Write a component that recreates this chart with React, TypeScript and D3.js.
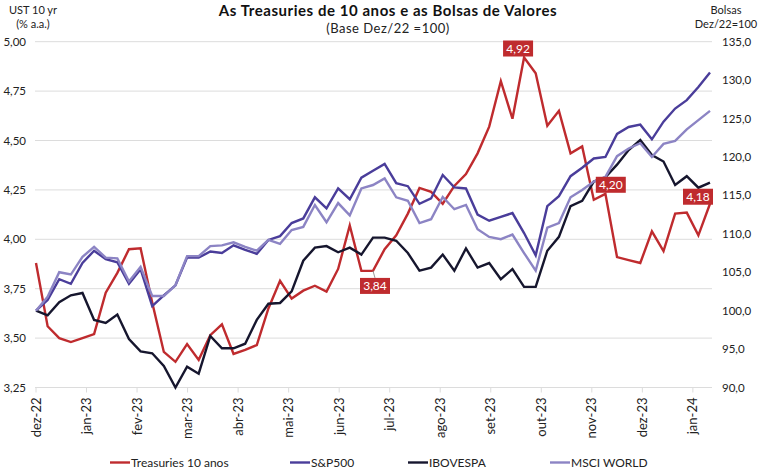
import React from 'react';
import * as d3 from 'd3';

const monthLabels = ['dez-22', 'jan-23', 'fev-23', 'mar-23', 'abr-23', 'mai-23', 'jun-23', 'jul-23', 'ago-23', 'set-23', 'out-23', 'nov-23', 'dez-23', 'jan-24'];

const treasuries = [
  3.88, 3.56, 3.50, 3.48, 3.50, 3.52, 3.73, 3.83, 3.95, 3.955,
  3.68, 3.43, 3.38, 3.47, 3.39, 3.515, 3.57, 3.42, 3.44, 3.465,
  3.65, 3.79, 3.70, 3.74, 3.765, 3.735, 3.85, 4.07, 3.84, 3.84,
  3.95, 4.02, 4.13, 4.26, 4.24, 4.18, 4.27, 4.33, 4.435, 4.57,
  4.80, 4.61, 4.92, 4.84, 4.575, 4.65, 4.435, 4.47, 4.20, 4.23,
  3.91, 3.895, 3.88, 4.04, 3.94, 4.13, 4.135, 4.02, 4.18,
];

const sp500 = [
  100, 101.4, 104.1, 103.5, 106.2, 107.8, 106.7, 106.3, 103.5, 105.4,
  100.6, 102.0, 103.3, 106.9, 106.9, 107.7, 107.5, 108.5, 107.9, 107.4,
  109.2, 109.7, 111.4, 112.0, 114.75, 113.3, 115.9, 114.5, 117.3, 118.2,
  119.1, 116.6, 116.2, 113.9, 114.6, 117.65, 116.05, 115.9, 112.5, 111.7,
  112.2, 112.7, 110.1, 107.2, 113.6, 114.9, 117.5, 118.6, 119.8, 120.0,
  123.0, 123.9, 124.2, 122.3, 124.6, 126.3, 127.4, 129.1, 131.0,
];

const ibovespa = [
  100, 99.4, 101.1, 102.0, 102.3, 98.8, 98.4, 99.5, 96.3, 94.7,
  94.45, 92.8, 90.0, 92.7, 91.8, 96.7, 95.1, 95.1, 95.7, 98.8,
  100.9, 101.0, 102.5, 106.5, 108.2, 108.4, 107.6, 108.2, 107.3, 109.5,
  109.5, 109.1, 107.5, 105.2, 105.6, 107.3, 105.2, 108.1, 105.6, 106.2,
  104.1, 105.4, 103.1, 103.1, 107.8, 109.6, 113.6, 114.3, 116.8, 117.35,
  119.0, 120.9, 122.2, 120.25, 119.4, 116.35, 117.5, 116.0, 116.65,
];

const msciWorld = [
  100, 101.8, 105.0, 104.7, 107.0, 108.3, 106.9, 106.8, 103.8, 105.7,
  101.9, 101.9, 103.3, 107.1, 107.1, 108.4, 108.5, 108.9, 108.3, 107.8,
  109.2, 108.7, 110.5, 110.9, 113.75, 111.5, 114.0, 112.4, 115.9, 116.35,
  117.2, 114.75, 114.3, 111.4, 111.9, 114.8, 113.2, 113.75, 110.6, 109.6,
  109.3, 109.9, 107.5, 105.2, 110.8, 111.4, 114.75, 115.7, 116.8, 117.4,
  120.1, 121.1, 121.8, 120.0, 121.7, 122.1, 123.6, 124.8, 126.0,
];

const leftTicks = [3.25, 3.5, 3.75, 4.0, 4.25, 4.5, 4.75, 5.0];
const rightTicks = [90, 95, 100, 105, 110, 115, 120, 125, 130, 135];
const labeledIdx = [29, 42, 48, 58];

const seriesNames = ['Treasuries 10 anos', 'S&P500', 'IBOVESPA', 'MSCI WORLD'];
const COLORS = ['#BF2B2E', '#4A3D9A', '#16162E', '#8C84C4'];

const W = 760;
const H = 474;
const FONT = 'Lato, "Open Sans", sans-serif';
const WEEKS_PER_MONTH = 365.25 / 12 / 7;

export default function App() {
  const n = treasuries.length;
  const x = d3.scaleLinear().domain([0, n - 1]).range([36, 710]);
  const yL = d3.scaleLinear().domain([3.25, 5.0]).range([387.5, 41.7]);
  const yR = d3.scaleLinear().domain([90, 135]).range([387.5, 41.7]);

  const lineL = d3.line<number>().x((_, i) => x(i)).y((d) => yL(d));
  const lineR = d3.line<number>().x((_, i) => x(i)).y((d) => yR(d));

  const paths = [
    { d: lineL(treasuries), c: COLORS[0] },
    { d: lineR(sp500), c: COLORS[1] },
    { d: lineR(ibovespa), c: COLORS[2] },
    { d: lineR(msciWorld), c: COLORS[3] },
  ];

  const fmt2 = (v: number) => v.toFixed(2).replace('.', ',');
  const fmt1 = (v: number) => v.toFixed(1).replace('.', ',');

  // label box placement relative to point (style only)
  const labelPos: Record<number, { dx: number; dy: number; leader?: boolean }> = {
    29: { dx: 2, dy: 15, leader: true },
    42: { dx: -6, dy: -9 },
    48: { dx: 17, dy: -15 },
    58: { dx: -12, dy: -7 },
  };

  const legendX = [110, 290, 408, 550];

  return (
    <svg width={W} height={H} style={{ position: 'absolute', left: 0, top: 0, background: '#fff' }} fontFamily={FONT}>
      {/* gridlines */}
      {leftTicks.map((t) => (
        <line key={t} x1={35} x2={712} y1={yL(t)} y2={yL(t)} stroke="#DCDCDC" strokeWidth={1} />
      ))}
      {/* x ticks */}
      {monthLabels.map((m, i) => {
        const px = x(i * WEEKS_PER_MONTH);
        return (
          <g key={m}>
            <line x1={px} x2={px} y1={yL(3.25)} y2={yL(3.25) + 5} stroke="#DCDCDC" />
            <text
              transform={`translate(${px + 4.5},${yL(3.25) + 10}) rotate(-90)`}
              textAnchor="end"
              fontSize={13}
              fill="#222"
            >
              {m}
            </text>
          </g>
        );
      })}
      {/* left axis labels */}
      {leftTicks.map((t) => (
        <text key={t} x={26} y={yL(t) + 4} textAnchor="end" fontSize={11.5} fill="#222">
          {fmt2(t)}
        </text>
      ))}
      {rightTicks.map((t) => (
        <text key={t} x={722} y={yR(t) + 4} textAnchor="start" fontSize={11.5} fill="#222">
          {fmt1(t)}
        </text>
      ))}
      <text x={33} y={14} textAnchor="middle" fontSize={11} fill="#222">UST 10 yr</text>
      <text x={33} y={28} textAnchor="middle" fontSize={11} fill="#222">(% a.a.)</text>
      <text x={726} y={14} textAnchor="middle" fontSize={11} fill="#222">Bolsas</text>
      <text x={726} y={28} textAnchor="middle" fontSize={11} fill="#222">Dez/22=100</text>
      {/* title */}
      <text x={388} y={16} textAnchor="middle" fontSize={15} fontWeight="bold" fill="#111" letterSpacing={0.55}>
        As Treasuries  de 10 anos e as Bolsas de Valores
      </text>
      <text x={388} y={33} textAnchor="middle" fontSize={13} fill="#222" letterSpacing={0.5}>(Base Dez/22 =100)</text>
      {/* lines */}
      {paths.map((p, i) => (
        <path key={i} d={p.d || ''} fill="none" stroke={p.c} strokeWidth={2.4} strokeLinejoin="miter" />
      ))}
      {/* data labels */}
      {labeledIdx.map((idx) => {
        const px = x(idx);
        const py = yL(treasuries[idx]);
        const pos = labelPos[idx];
        const cx = px + pos.dx;
        const cy = py + pos.dy;
        return (
          <g key={idx}>
            {pos.leader && <line x1={px} y1={py} x2={cx} y2={cy - 8} stroke="#999" strokeWidth={1} />}
            <rect x={cx - 15} y={cy - 8} width={30} height={16} fill="#BF2B2E" />
            <text x={cx} y={cy + 4.5} textAnchor="middle" fontSize={12} fill="#fff">
              {fmt2(treasuries[idx])}
            </text>
          </g>
        );
      })}
      {/* legend */}
      {seriesNames.map((s, i) => (
        <g key={s}>
          <line x1={legendX[i]} x2={legendX[i] + 20} y1={462.5} y2={462.5} stroke={COLORS[i]} strokeWidth={2.4} />
          <text x={legendX[i] + 21} y={466.5} fontSize={12} fill="#222">{s}</text>
        </g>
      ))}
    </svg>
  );
}
